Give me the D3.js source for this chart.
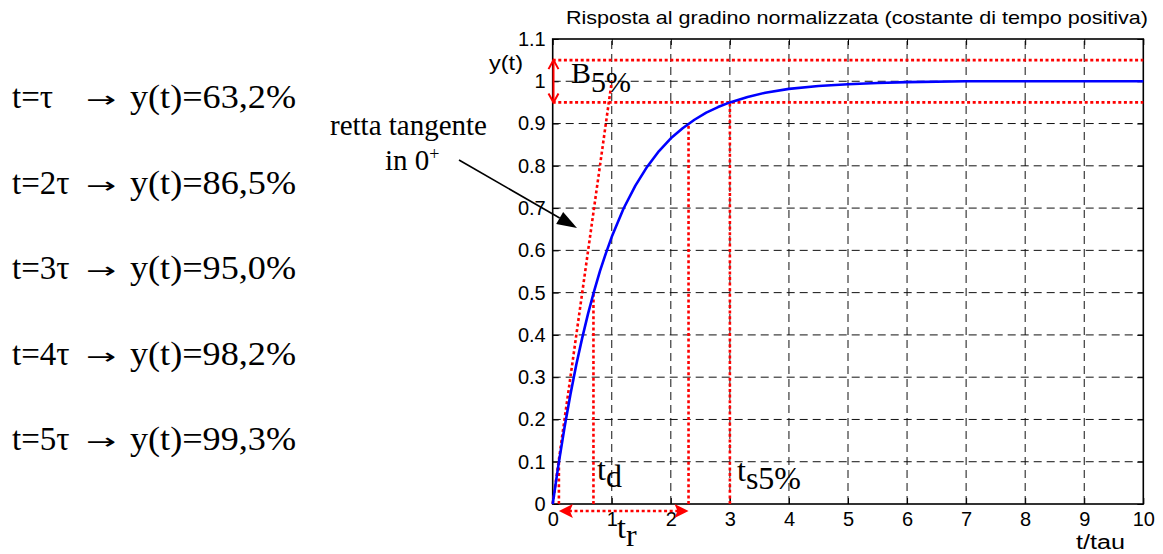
<!DOCTYPE html>
<html>
<head>
<meta charset="utf-8">
<script src="https://cdn.jsdelivr.net/npm/d3@7"></script>
<style>
  html, body { margin: 0; padding: 0; background: #fff; }
  svg { display: block; }
</style>
</head>
<body>
<svg id="chart" width="1163" height="554"></svg>
<script>
// Normalised step response samples (t in units of tau)
const tSamples = [0, 0.1, 0.2, 0.3, 0.4, 0.5, 0.6, 0.7, 0.8, 0.9, 1.0, 1.2, 1.4, 1.6, 1.8, 2.0,
                  2.2, 2.4, 2.6, 2.8, 3.0, 3.3, 3.6, 4.0, 4.5, 5.0, 5.5, 6.0, 7, 8, 9, 10];
const ySamples = [0, 0.095, 0.181, 0.259, 0.330, 0.393, 0.451, 0.503, 0.551, 0.593, 0.632, 0.699,
                  0.753, 0.798, 0.835, 0.865, 0.889, 0.909, 0.926, 0.939, 0.950, 0.963, 0.973,
                  0.982, 0.989, 0.993, 0.996, 0.998, 1.0, 1.0, 1.0, 1.0];

const xTicks = [0, 1, 2, 3, 4, 5, 6, 7, 8, 9, 10];
const xTickLabels = ["0", "1", "2", "3", "4", "5", "6", "7", "8", "9", "10"];
const yTicks = [0, 0.1, 0.2, 0.3, 0.4, 0.5, 0.6, 0.7, 0.8, 0.9, 1.0, 1.1];
const yTickLabels = ["0", "0.1", "0.2", "0.3", "0.4", "0.5", "0.6", "0.7", "0.8", "0.9", "1", "1.1"];

// Settling band (±5%) and characteristic times
const bandLevels = [0.95, 1.05];
const tangentEnd = [1.0, 1.0];            // tangent at 0+ reaches 1 at t = tau
const tStart10 = 0.105, y10 = 0.1;        // 10% crossing
const tDelay = 0.69, yDelay = 0.5;        // 50% crossing (delay time)
const tEnd90 = 2.3, y90 = 0.9;            // 90% crossing
const tSettle = 3.0, ySettle = 0.95;      // 5% settling time

// Side table of values
const tableLeft = ["t=τ", "t=2τ", "t=3τ", "t=4τ", "t=5τ"];
const tableRight = ["y(t)=63,2%", "y(t)=86,5%", "y(t)=95,0%", "y(t)=98,2%", "y(t)=99,3%"];

const titleText = "Risposta al gradino normalizzata (costante di tempo positiva)";

const svg = d3.select("#chart");
const plot = { left: 552.7, right: 1143.3, top: 39, bottom: 504 };

const x = d3.scaleLinear().domain([0, 10]).range([plot.left, plot.right]);
const y = d3.scaleLinear().domain([0, 1.1]).range([plot.bottom, plot.top]);

const sans = "'Liberation Sans', Arial, Helvetica, sans-serif";
const serif = "'Liberation Serif', 'DejaVu Serif', serif";

// Grid (dashed)
const grid = svg.append("g").attr("stroke", "#111").attr("stroke-width", 1)
  .attr("stroke-dasharray", "8,5").attr("fill", "none");
grid.selectAll("line.gx").data(xTicks.slice(1, -1)).join("line")
  .attr("x1", d => x(d)).attr("x2", d => x(d))
  .attr("y1", plot.bottom).attr("y2", plot.top);
grid.selectAll("line.gy").data(yTicks.slice(1, -1)).join("line")
  .attr("y1", d => y(d)).attr("y2", d => y(d))
  .attr("x1", plot.left).attr("x2", plot.right);

// Axes with inward ticks
const tickLen = 6;
const xAxis = d3.axisBottom(x).tickValues(xTicks).tickFormat((d, i) => xTickLabels[i])
  .tickSizeInner(-tickLen).tickSizeOuter(0).tickPadding(8);
const yAxis = d3.axisLeft(y).tickValues(yTicks).tickFormat((d, i) => yTickLabels[i])
  .tickSizeInner(-tickLen).tickSizeOuter(0).tickPadding(7);
const xTop = d3.axisTop(x).tickValues(xTicks).tickFormat("").tickSizeInner(-tickLen).tickSizeOuter(0);
const yRight = d3.axisRight(y).tickValues(yTicks).tickFormat("").tickSizeInner(-tickLen).tickSizeOuter(0);

function styleAxis(g) {
  g.select(".domain").remove();
  g.selectAll("line").attr("stroke", "#000").attr("stroke-width", 1);
  g.selectAll("text").attr("fill", "#000").attr("font-family", sans).attr("font-size", 20);
}
svg.append("g").attr("transform", `translate(0,${plot.bottom})`).call(xAxis).call(styleAxis)
  .selectAll("text").attr("dy", "0.71em");
svg.append("g").attr("transform", `translate(${plot.left},0)`).call(yAxis).call(styleAxis);
svg.append("g").attr("transform", `translate(0,${plot.top})`).call(xTop).call(styleAxis);
svg.append("g").attr("transform", `translate(${plot.right},0)`).call(yRight).call(styleAxis);

// Plot box
svg.append("rect")
  .attr("x", plot.left).attr("y", plot.top)
  .attr("width", plot.right - plot.left).attr("height", plot.bottom - plot.top)
  .attr("fill", "none").attr("stroke", "#000").attr("stroke-width", 1.6);

// Red dotted construction lines
const red = "#ff0000";
const dotted = svg.append("g").attr("stroke", red).attr("stroke-width", 2.6)
  .attr("stroke-dasharray", "3,2.6").attr("fill", "none");
dotted.selectAll("line.band").data(bandLevels).join("line")
  .attr("x1", x(0)).attr("x2", x(10))
  .attr("y1", d => y(d)).attr("y2", d => y(d));
dotted.append("line")
  .attr("x1", x(0)).attr("y1", y(0))
  .attr("x2", x(tangentEnd[0])).attr("y2", y(tangentEnd[1]));
const verticals = [[tStart10, y10], [tDelay, yDelay], [tEnd90, y90], [tSettle, ySettle]];
dotted.selectAll("line.v").data(verticals).join("line")
  .attr("x1", d => x(d[0])).attr("x2", d => x(d[0]))
  .attr("y1", y(0)).attr("y2", d => y(d[1]));

// Rise-time dotted double arrow below the axis
const arrowY = plot.bottom + 7;
dotted.append("line")
  .attr("x1", x(tStart10) + 10).attr("x2", x(tEnd90) - 10)
  .attr("y1", arrowY).attr("y2", arrowY);
const heads = svg.append("g").attr("fill", red);
heads.append("path")
  .attr("d", `M${x(tStart10)},${arrowY} l14,-7 l-3,7 l3,7 Z`);
heads.append("path")
  .attr("d", `M${x(tEnd90)},${arrowY} l-14,-7 l3,7 l-3,7 Z`);

// Band width double arrow (solid) on the y axis
const bx = plot.left + 0.8;
svg.append("line").attr("x1", bx).attr("x2", bx)
  .attr("y1", y(bandLevels[1])).attr("y2", y(bandLevels[0]))
  .attr("stroke", red).attr("stroke-width", 2);
svg.append("path")
  .attr("d", `M${bx - 5},${y(bandLevels[1]) + 9} L${bx},${y(bandLevels[1])} L${bx + 5},${y(bandLevels[1]) + 9}`
    + ` M${bx - 5},${y(bandLevels[0]) - 9} L${bx},${y(bandLevels[0])} L${bx + 5},${y(bandLevels[0]) - 9}`)
  .attr("fill", "none").attr("stroke", red).attr("stroke-width", 2);

// Step response curve
const line = d3.line().x((d, i) => x(tSamples[i])).y(d => y(d));
svg.append("path").datum(ySamples)
  .attr("d", line)
  .attr("fill", "none").attr("stroke", "#0000ff").attr("stroke-width", 2.6)
  .attr("stroke-linejoin", "round");

// Title and axis names
svg.append("text").attr("x", 566).attr("y", 24)
  .attr("textLength", 582).attr("lengthAdjust", "spacingAndGlyphs")
  .attr("font-family", sans).attr("font-size", 18.5).text(titleText);
svg.append("text").attr("x", 489).attr("y", 70)
  .attr("textLength", 34).attr("lengthAdjust", "spacingAndGlyphs")
  .attr("font-family", sans).attr("font-size", 20).text("y(t)");
svg.append("text").attr("x", 1076).attr("y", 549)
  .attr("textLength", 49).attr("lengthAdjust", "spacingAndGlyphs")
  .attr("font-family", sans).attr("font-size", 20).text("t/tau");

// Serif annotations with subscripts
function subLabel(px, py, main, sub, size, drop) {
  const t = svg.append("text").attr("x", px).attr("y", py)
    .attr("font-family", serif).attr("font-size", size).attr("fill", "#000");
  t.append("tspan").text(main);
  t.append("tspan").attr("dy", drop).text(sub);
}
subLabel(571, 83, "B", "5%", 30, 9);
subLabel(597, 480, "t", "d", 32, 7);
subLabel(737, 481, "t", "s5%", 32, 8);
subLabel(617, 538, "t", "r", 32, 8);

svg.append("text").attr("x", 330).attr("y", 135)
  .attr("font-family", serif).attr("font-size", 29).attr("fill", "#000")
  .text("retta tangente");
const in0 = svg.append("text").attr("x", 385).attr("y", 170)
  .attr("font-family", serif).attr("font-size", 29).attr("fill", "#000");
in0.append("tspan").text("in 0");
in0.append("tspan").attr("dy", -10).attr("font-size", 18).text("+");

// Pointer arrow to the tangent line
const p0 = [459, 160], p1 = [577, 228];
const ang = Math.atan2(p1[1] - p0[1], p1[0] - p0[0]);
const hl = 20, hw = 7;
const bxp = p1[0] - hl * Math.cos(ang), byp = p1[1] - hl * Math.sin(ang);
svg.append("line").attr("x1", p0[0]).attr("y1", p0[1]).attr("x2", bxp).attr("y2", byp)
  .attr("stroke", "#000").attr("stroke-width", 1.6);
svg.append("path")
  .attr("d", `M${p1[0]},${p1[1]} L${bxp - hw * Math.sin(ang)},${byp + hw * Math.cos(ang)} L${bxp + hw * Math.sin(ang)},${byp - hw * Math.cos(ang)} Z`)
  .attr("fill", "#000");

// Table of percentages
const rowY = d3.scaleLinear().domain([0, 4]).range([108, 450]);
const table = svg.append("g").attr("font-family", serif).attr("font-size", 33).attr("fill", "#000");
table.selectAll("text.l").data(tableLeft).join("text")
  .attr("x", 12).attr("y", (d, i) => rowY(i)).text(d => d);
// Arrow glyph, widened to about 31px
table.selectAll("text.a").data(tableLeft).join("text")
  .attr("font-family", "'DejaVu Sans', sans-serif").attr("font-size", 24)
  .attr("x", 0).attr("y", 0)
  .text("→")
  .attr("transform", (d, i) => `translate(86,${rowY(i) - 1}) scale(1.5,0.9)`);
table.selectAll("text.r").data(tableRight).join("text")
  .attr("x", 130).attr("y", (d, i) => rowY(i))
  .attr("textLength", 166).attr("lengthAdjust", "spacingAndGlyphs").text(d => d);
</script>
</body>
</html>
